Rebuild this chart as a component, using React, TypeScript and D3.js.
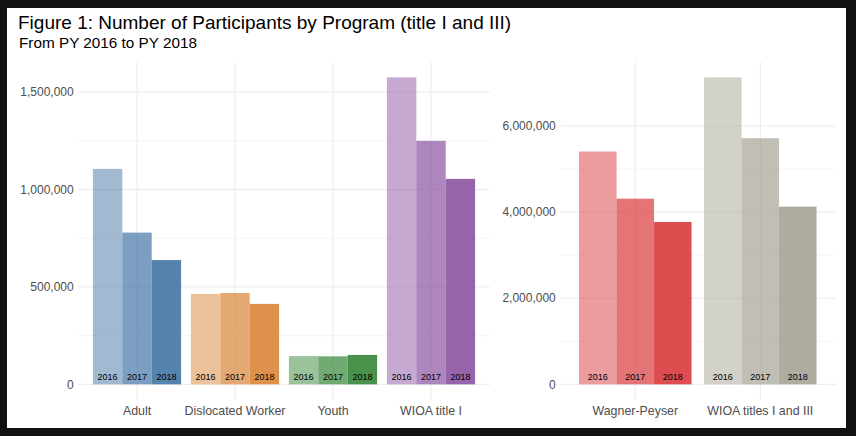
import React from 'react';
import * as d3 from 'd3';

const years = ['2016', '2017', '2018'];

const leftPrograms = ['Adult', 'Dislocated Worker', 'Youth', 'WIOA title I'];
const leftValues: number[][] = [
    [1106000, 779000, 638000],
    [464000, 469000, 413000],
    [145000, 144000, 151000],
    [1576000, 1250000, 1055000],
];
const leftColors = ['#4475a5', '#d98536', '#368637', '#8c53a2'];
const leftTicks = [0, 500000, 1000000, 1500000];
const leftMinor = [250000, 750000, 1250000];

const rightPrograms = ['Wagner-Peyser', 'WIOA titles I and III'];
const rightValues: number[][] = [
    [5409000, 4314000, 3772000],
    [7132000, 5718000, 4128000],
];
const rightColors = ['#d9393c', '#a5a395'];
const rightTicks = [0, 2000000, 4000000, 6000000];
const rightMinor = [1000000, 3000000, 5000000];

const yearAlpha = [0.5, 0.7, 0.9];

const W = 856;
const H = 436;
const top = 62;
const bottom = 399.7;
const font = '"Liberation Sans", Arial, sans-serif';
const fmt = d3.format(',');

interface PanelProps {
    x0: number;
    x1: number;
    programs: string[];
    values: number[][];
    colors: string[];
    ticks: number[];
    minor: number[];
}

const Panel: React.FC<PanelProps> = ({ x0, x1, programs, values, colors, ticks, minor }) => {
    const max = d3.max(values.flat())!;
    const y = d3
        .scaleLinear()
        .domain([-0.05 * max, 1.05 * max])
        .range([bottom, top]);
    const x = d3
        .scaleBand()
        .domain(programs)
        .range([x0, x1])
        .paddingInner(0.1)
        .paddingOuter(0.15);
    const xYear = d3.scaleBand().domain(years).range([0, x.bandwidth()]);

    return (
        <g>
            {/* grid */}
            {minor.map((t) => (
                <line key={'m' + t} x1={x0} x2={x1} y1={y(t)} y2={y(t)} stroke="#f2f2f2" strokeWidth={0.8} />
            ))}
            {ticks.map((t) => (
                <line key={'t' + t} x1={x0} x2={x1} y1={y(t)} y2={y(t)} stroke="#ebebeb" strokeWidth={1} />
            ))}
            {programs.map((p) => (
                <line
                    key={'v' + p}
                    x1={x(p)! + x.bandwidth() / 2}
                    x2={x(p)! + x.bandwidth() / 2}
                    y1={top}
                    y2={bottom}
                    stroke="#ebebeb"
                    strokeWidth={1}
                />
            ))}
            {/* bars */}
            {programs.map((p, i) =>
                years.map((yr, j) => (
                    <rect
                        key={p + yr}
                        x={x(p)! + xYear(yr)!}
                        y={y(values[i][j])}
                        width={xYear.bandwidth()}
                        height={y(0) - y(values[i][j])}
                        fill={colors[i]}
                        fillOpacity={yearAlpha[j]}
                    />
                ))
            )}
            {/* year labels */}
            {programs.map((p) =>
                years.map((yr) => (
                    <text
                        key={'l' + p + yr}
                        x={x(p)! + xYear(yr)! + xYear.bandwidth() / 2}
                        y={y(0) - 4.5}
                        textAnchor="middle"
                        fontSize={9}
                        fontFamily={font}
                        fill="#000"
                    >
                        {yr}
                    </text>
                ))
            )}
            {/* y axis labels */}
            {ticks.map((t) => (
                <text
                    key={'yl' + t}
                    x={x0 - 4.5}
                    y={y(t)}
                    dy="0.35em"
                    textAnchor="end"
                    fontSize={12}
                    fontFamily={font}
                    fill="#4d4d4d"
                >
                    {fmt(t)}
                </text>
            ))}
            {/* x axis labels */}
            {programs.map((p) => (
                <text
                    key={'xl' + p}
                    x={x(p)! + x.bandwidth() / 2}
                    y={414.5}
                    textAnchor="middle"
                    fontSize={12.4}
                    fontFamily={font}
                    fill="#4d4d4d"
                >
                    {p}
                </text>
            ))}
        </g>
    );
};

export default function App() {
    return (
        <svg
            width={W}
            height={H}
            style={{ position: 'absolute', left: 0, top: 0, display: 'block' }}
        >
            <rect x={0} y={0} width={W} height={H} fill="#111" />
            <rect x={7} y={8} width={839} height={420} fill="#fff" />
            <text x={18} y={28.8} fontSize={19} fontFamily={font} fill="#000">
                Figure 1: Number of Participants by Program (title I and III)
            </text>
            <text x={19} y={48} fontSize={15.3} fontFamily={font} fill="#000">
                From PY 2016 to PY 2018
            </text>
            <Panel
                x0={78.2}
                x1={489.8}
                programs={leftPrograms}
                values={leftValues}
                colors={leftColors}
                ticks={leftTicks}
                minor={leftMinor}
            />
            <Panel
                x0={560.3}
                x1={835.3}
                programs={rightPrograms}
                values={rightValues}
                colors={rightColors}
                ticks={rightTicks}
                minor={rightMinor}
            />
        </svg>
    );
}
